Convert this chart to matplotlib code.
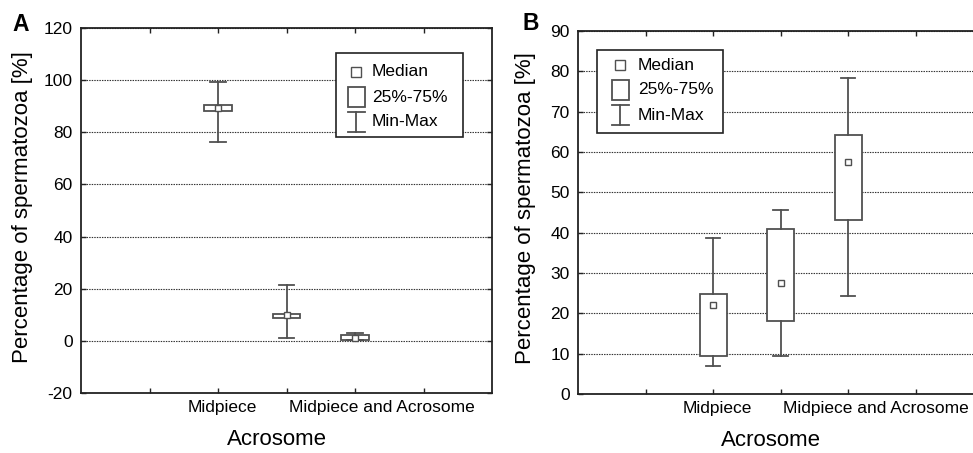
import matplotlib
matplotlib.use('Agg')
import matplotlib.pyplot as plt
from matplotlib.patches import Rectangle
from matplotlib.lines import Line2D

plt.rcParams['font.family'] = ['Liberation Sans', 'DejaVu Sans']
plt.rcParams['axes.unicode_minus'] = False

W, H = 973, 453

# ---- data ----
categories = ['Midpiece', 'Acrosome', 'Midpiece and Acrosome']
tick_labels = ['Midpiece', 'Midpiece and Acrosome']
x_title = 'Acrosome'
y_title = 'Percentage of spermatozoa [%]'
legend_labels = ['Median', '25%-75%', 'Min-Max']

# Panel A
a_min = [76.2, 1.0, 0.2]
a_q1 = [88.2, 8.8, 0.4]
a_med = [89.3, 9.9, 1.2]
a_q3 = [90.4, 10.3, 2.1]
a_max = [99.3, 21.6, 3.2]
a_yticks = [-20, 0, 20, 40, 60, 80, 100, 120]

# Panel B
b_min = [6.9, 9.4, 24.2]
b_q1 = [9.4, 18.2, 43.1]
b_med = [22.1, 27.4, 57.6]
b_q3 = [24.9, 41.0, 64.2]
b_max = [38.6, 45.5, 78.4]
b_yticks = [0, 10, 20, 30, 40, 50, 60, 70, 80, 90]

positions = [2, 3, 4]
LC = '#505050'
SC = '#222222'

fig = plt.figure(figsize=(W / 100, H / 100), dpi=100)


def fp(x, y):
    return x / W, 1 - y / H


def panel(rect, mins, q1s, meds, q3s, maxs, yticks, capw):
    ax = fig.add_axes(rect)
    stats = [dict(whislo=lo, q1=a, med=m, q3=b, whishi=hi, label=c)
             for lo, a, m, b, hi, c in zip(mins, q1s, meds, q3s, maxs, categories)]
    ax.bxp(stats, positions=positions, widths=0.4, capwidths=capw,
           patch_artist=True, showfliers=False,
           boxprops=dict(facecolor='white', edgecolor=LC, linewidth=1.3),
           whiskerprops=dict(color=LC, linewidth=1.3),
           capprops=dict(color=LC, linewidth=1.3),
           medianprops=dict(visible=False), zorder=3)
    ax.plot(positions, meds, 's', ms=5, mfc='white', mec=LC, mew=1.0, zorder=5)
    ax.set_xlim(0, 6)
    ax.set_ylim(yticks[0], yticks[-1])
    ax.set_yticks(yticks)
    ax.set_xticks([1, 2, 3, 4, 5])
    ax.set_xticklabels([])
    ax.tick_params(direction='in', length=3.5, width=1, top=True, right=True,
                   labelsize=12.5, pad=6, colors=SC, labelcolor='black')
    ax.yaxis.grid(True, linestyle=(0, (1.3, 1.0)), color='#333333', linewidth=0.8)
    ax.set_axisbelow(True)
    for s in ax.spines.values():
        s.set_linewidth(1.3)
        s.set_color(SC)
    tr = ax.get_xaxis_transform()
    ax.annotate(tick_labels[0], xy=(2.06, 0), xycoords=tr, xytext=(0, -5),
                textcoords='offset points', ha='center', va='top', fontsize=12.5)
    ax.annotate(tick_labels[1], xy=(3.04, 0), xycoords=tr, xytext=(0, -5),
                textcoords='offset points', ha='left', va='top', fontsize=12.5)
    ax.annotate(x_title, xy=(2.86, 0), xycoords=tr, xytext=(0, -26),
                textcoords='offset points', ha='center', va='top', fontsize=16)
    return ax


axA = panel([81 / W, 1 - 393 / H, 411 / W, 365 / H], a_min, a_q1, a_med, a_q3, a_max, a_yticks, 0.23)
axB = panel([578 / W, 1 - 394 / H, 405 / W, 363 / H], b_min, b_q1, b_med, b_q3, b_max, b_yticks, 0.22)

fig.text(*fp(22.5, 207.5), y_title, rotation=90, ha='center', va='center', fontsize=16)
fig.text(*fp(526, 208), y_title, rotation=90, ha='center', va='center', fontsize=16)
fig.text(*fp(12, 13), 'A', fontsize=16.5, fontweight='bold', ha='left', va='top')
fig.text(*fp(522, 12), 'B', fontsize=16.5, fontweight='bold', ha='left', va='top')


def draw_legend(left, top, right, bottom, mx, tx, rows):
    x0, y1 = fp(left, top)
    x1, y0 = fp(right, bottom)
    fig.add_artist(Rectangle((x0, y0), x1 - x0, y1 - y0, transform=fig.transFigure,
                             facecolor='white', edgecolor=SC, linewidth=1.2, zorder=10))
    # median
    fig.add_artist(Line2D([mx / W], [1 - rows[0] / H], marker='s', ms=6.5, mfc='white',
                          mec=LC, mew=1.0, transform=fig.transFigure, zorder=11))
    # box
    bx, by = fp(mx - 8.5, rows[1] + 10)
    fig.add_artist(Rectangle((bx, by), 17 / W, 20 / H, transform=fig.transFigure,
                             facecolor='white', edgecolor=LC, linewidth=1.3, zorder=11))
    # min-max
    yc = rows[2]
    fig.add_artist(Line2D([mx / W, mx / W], [1 - (yc - 10) / H, 1 - (yc + 10) / H],
                          color=LC, lw=1.3, transform=fig.transFigure, zorder=11))
    for yy in (yc - 10, yc + 10):
        fig.add_artist(Line2D([(mx - 8.5) / W, (mx + 8.5) / W], [1 - yy / H, 1 - yy / H],
                              color=LC, lw=1.3, transform=fig.transFigure, zorder=11))
    for lab, yy in zip(legend_labels, rows):
        t = fig.text(tx / W, 1 - yy / H, lab, ha='left', va='center', fontsize=12.5)
        t.set_zorder(12)


draw_legend(336, 53, 463, 137, 356, 372, [72, 97, 122])
draw_legend(597, 50, 723, 133, 620, 638, [65, 90, 115])

fig.savefig('out.png', dpi=100)
